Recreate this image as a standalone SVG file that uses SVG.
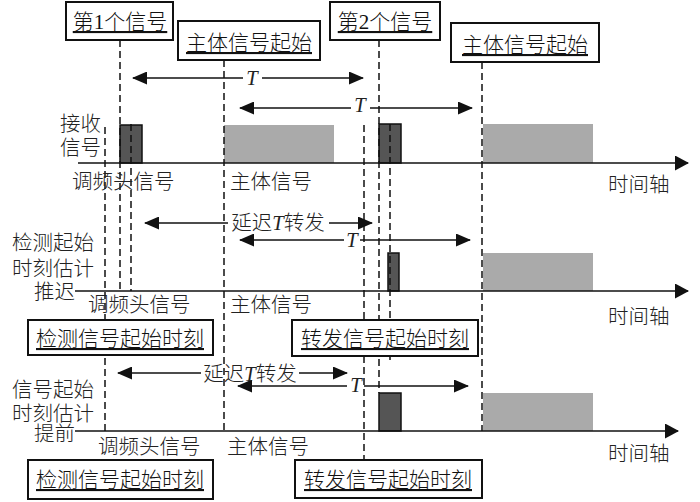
<svg xmlns="http://www.w3.org/2000/svg" width="700" height="502" viewBox="0 0 700 502">
<style>
.t{font-family:"Liberation Serif","Noto Sans CJK SC",serif;fill:#222;font-size:20.5px;font-weight:300}
.bt{font-family:"Liberation Serif","Noto Sans CJK SC",serif;fill:#111;font-size:21px;font-weight:300;text-anchor:middle;text-decoration:underline}
.it{font-style:italic;font-family:"Liberation Serif",serif;font-weight:400}
.box{fill:#fff;stroke:#111;stroke-width:2}
.dash{stroke:#111;stroke-width:1.5;stroke-dasharray:7 4;fill:none}
.ax{stroke:#111;stroke-width:1.6;fill:none}
.ar{stroke:#111;stroke-width:1.5;fill:none}
.dk{fill:#555;stroke:#111;stroke-width:1.5}
.gr{fill:#aaa}
</style>
<defs>
<marker id="ah" markerUnits="userSpaceOnUse" markerWidth="15" markerHeight="13" refX="14" refY="6.5" orient="auto-start-reverse" viewBox="0 0 15 13">
<path d="M0,0 L15,6.5 L0,13 z" fill="#111"/>
</marker>
<marker id="axh" markerUnits="userSpaceOnUse" markerWidth="14" markerHeight="15" refX="13" refY="7.5" orient="auto" viewBox="0 0 14 15">
<path d="M0,0 L14,7.5 L0,15 z" fill="#111"/>
</marker>
</defs>
<rect width="700" height="502" fill="#fff"/>

<g id="signals">
<rect class="dk" x="120" y="125" width="22" height="38"/>
<rect class="gr" x="224" y="125" width="110" height="38"/>
<rect class="dk" x="379" y="124" width="22" height="39"/>
<rect class="gr" x="483" y="124" width="110" height="39"/>
<rect class="dk" x="388" y="253" width="11" height="38"/>
<rect class="gr" x="483" y="253" width="110" height="38"/>
<rect class="dk" x="379" y="393" width="22" height="38"/>
<rect class="gr" x="483" y="393" width="110" height="38"/>
</g>

<g id="guides">
<line class="dash" x1="105" y1="127" x2="105" y2="431"/>
<line class="dash" x1="120" y1="40" x2="120" y2="291"/>
<line class="dash" x1="131" y1="124" x2="131" y2="291"/>
<line class="dash" x1="224" y1="60" x2="224" y2="431"/>
<line class="dash" x1="364" y1="125" x2="364" y2="460"/>
<line class="dash" x1="379" y1="40" x2="379" y2="393"/>
<line class="dash" x1="390" y1="124" x2="390" y2="360"/>
<line class="dash" x1="482" y1="62" x2="482" y2="431"/>
</g>

<g id="connectors">
<line class="ax" x1="78" y1="163" x2="688" y2="163" marker-end="url(#axh)"/>
<line class="ax" x1="75" y1="291" x2="688" y2="291" marker-end="url(#axh)"/>
<line class="ax" x1="75" y1="431" x2="678" y2="431" marker-end="url(#axh)"/>

<line class="ar" x1="133" y1="78" x2="243" y2="78" marker-start="url(#ah)"/>
<line class="ar" x1="262" y1="78" x2="363" y2="78" marker-end="url(#ah)"/>
<line class="ar" x1="240" y1="108" x2="351" y2="108" marker-start="url(#ah)"/>
<line class="ar" x1="370" y1="108" x2="472" y2="108" marker-end="url(#ah)"/>

<line class="ar" x1="145" y1="223" x2="228" y2="223" marker-start="url(#ah)"/>
<line class="ar" x1="329" y1="223" x2="372" y2="223" marker-end="url(#ah)"/>
<line class="ar" x1="240" y1="240" x2="344" y2="240" marker-start="url(#ah)"/>
<line class="ar" x1="360" y1="240" x2="470" y2="240" marker-end="url(#ah)"/>

<line class="ar" x1="118" y1="373" x2="201" y2="373" marker-start="url(#ah)"/>
<line class="ar" x1="299" y1="373" x2="347" y2="373" marker-end="url(#ah)"/>
<line class="ar" x1="238" y1="386" x2="347" y2="386" marker-start="url(#ah)"/>
<line class="ar" x1="364" y1="386" x2="468" y2="386" marker-end="url(#ah)"/>

<text class="t it" x="252" y="85" text-anchor="middle" font-size="19">T</text>
<text class="t it" x="360" y="112" text-anchor="middle" font-size="19">T</text>
<text class="t" x="278" y="230" text-anchor="middle">延迟<tspan class="it">T</tspan>转发</text>
<text class="t it" x="352" y="247" text-anchor="middle" font-size="19">T</text>
<text class="t" x="250" y="381" text-anchor="middle">延迟<tspan class="it">T</tspan>转发</text>
<text class="t it" x="356" y="392" text-anchor="middle" font-size="19">T</text>
</g>

<g id="box-first-signal">
<rect class="box" x="66" y="2" width="107" height="38"/>
<text class="bt" x="120" y="29">第1个信号</text>
</g>
<g id="box-main-start-1">
<rect class="box" x="178" y="21" width="142" height="39"/>
<text class="bt" x="249" y="50">主体信号起始</text>
</g>
<g id="box-second-signal">
<rect class="box" x="330" y="2" width="110" height="38"/>
<text class="bt" x="385" y="29">第2个信号</text>
</g>
<g id="box-main-start-2">
<rect class="box" x="451" y="23" width="148" height="39"/>
<text class="bt" x="525" y="52">主体信号起始</text>
</g>
<g id="box-detect-1">
<rect class="box" x="28" y="320" width="185" height="35"/>
<text class="bt" x="120" y="346">检测信号起始时刻</text>
</g>
<g id="box-forward-1">
<rect class="box" x="292" y="320" width="186" height="36"/>
<text class="bt" x="385" y="346">转发信号起始时刻</text>
</g>
<g id="box-detect-2">
<rect class="box" x="28" y="460" width="185" height="39"/>
<text class="bt" x="120" y="487">检测信号起始时刻</text>
</g>
<g id="box-forward-2">
<rect class="box" x="295" y="460" width="187" height="38"/>
<text class="bt" x="388" y="487">转发信号起始时刻</text>
</g>

<g id="labels">
<text class="t" x="60" y="131">接收</text>
<text class="t" x="60" y="155">信号</text>
<text class="t" x="72" y="189">调频头信号</text>
<text class="t" x="230" y="189">主体信号</text>
<text class="t" x="608" y="192">时间轴</text>

<text class="t" x="12" y="250">检测起始</text>
<text class="t" x="12" y="276">时刻估计</text>
<text class="t" x="34" y="299">推迟</text>
<text class="t" x="88" y="312">调频头信号</text>
<text class="t" x="230" y="312">主体信号</text>
<text class="t" x="608" y="324">时间轴</text>

<text class="t" x="12" y="397">信号起始</text>
<text class="t" x="12" y="421">时刻估计</text>
<text class="t" x="34" y="441">提前</text>
<text class="t" x="98" y="454">调频头信号</text>
<text class="t" x="227" y="454">主体信号</text>
<text class="t" x="608" y="461">时间轴</text>
</g>
</svg>
